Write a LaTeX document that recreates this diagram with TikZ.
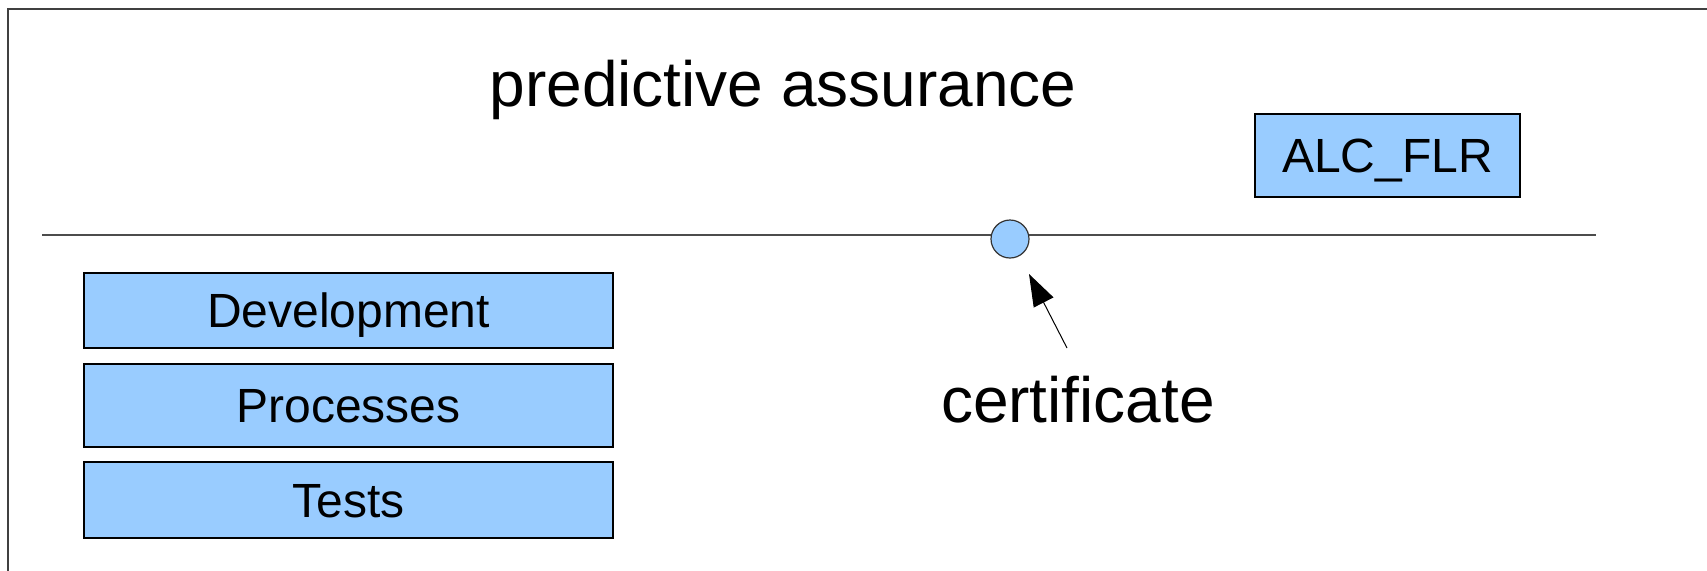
\documentclass[tikz,border=0pt]{standalone}
\usepackage{fontspec}
\setmainfont{Liberation Sans}
\usetikzlibrary{arrows.meta}
\definecolor{boxblue}{HTML}{99CCFF}
\definecolor{framegray}{HTML}{404040}
\tikzset{
  bluebox/.style={draw=black, fill=boxblue, line width=0.6pt, inner sep=0pt, text height=17.2pt, text depth=0pt, font=\fontsize{24}{28}\selectfont},
  bigtext/.style={inner sep=0pt, font=\fontsize{32}{38}\selectfont},
  marker/.style={circle, draw=black!80, fill=boxblue, line width=0.6pt, inner sep=0pt, minimum size=19pt},
  pointer/.style={line width=0.5pt, -{Triangle[length=16pt, width=11pt]}},
  axis/.style={draw=black!70, line width=0.6pt},
  frame/.style={draw=framegray, line width=0.7pt}
}
\begin{document}
\begin{tikzpicture}[x=0.5pt, y=-0.5pt]
\useasboundingbox (0,0) rectangle (1707,570);
% frame (top and left edges visible)
\coordinate (fbl) at (8,580);
\coordinate (ftl) at (8,9);
\coordinate (ftr) at (1720,9);
\draw[frame] (fbl) -- (ftl) -- (ftr);
% title
\node[bigtext] (title) at (783,90) {predictive assurance};
% timeline
\coordinate (lineL) at (42,235);
\coordinate (lineR) at (1596,235);
\draw[axis] (lineL) -- (lineR);
\node[marker] (cert) at (1010,239) {};
% ALC_FLR
\node[bluebox, minimum width=132.5pt, minimum height=41.5pt] (alc) at (1387.5,155.5) {ALC\_FLR};
% left stack
\node[bluebox, minimum width=264.5pt, minimum height=37.5pt] (dev) at (348.5,310.5) {Development};
\node[bluebox, minimum width=264.5pt, minimum height=41.5pt] (proc) at (348.5,405.5) {Processes};
\node[bluebox, minimum width=264.5pt, minimum height=38pt] (tests) at (348.5,500) {Tests};
% certificate label and pointer
\node[bigtext] (certlabel) at (1078,400) {certificate};
\coordinate (ptail) at (1067,348);
\coordinate (ptip) at (1029,274);
\draw[pointer] (ptail) -- (ptip);
\end{tikzpicture}
\end{document}
